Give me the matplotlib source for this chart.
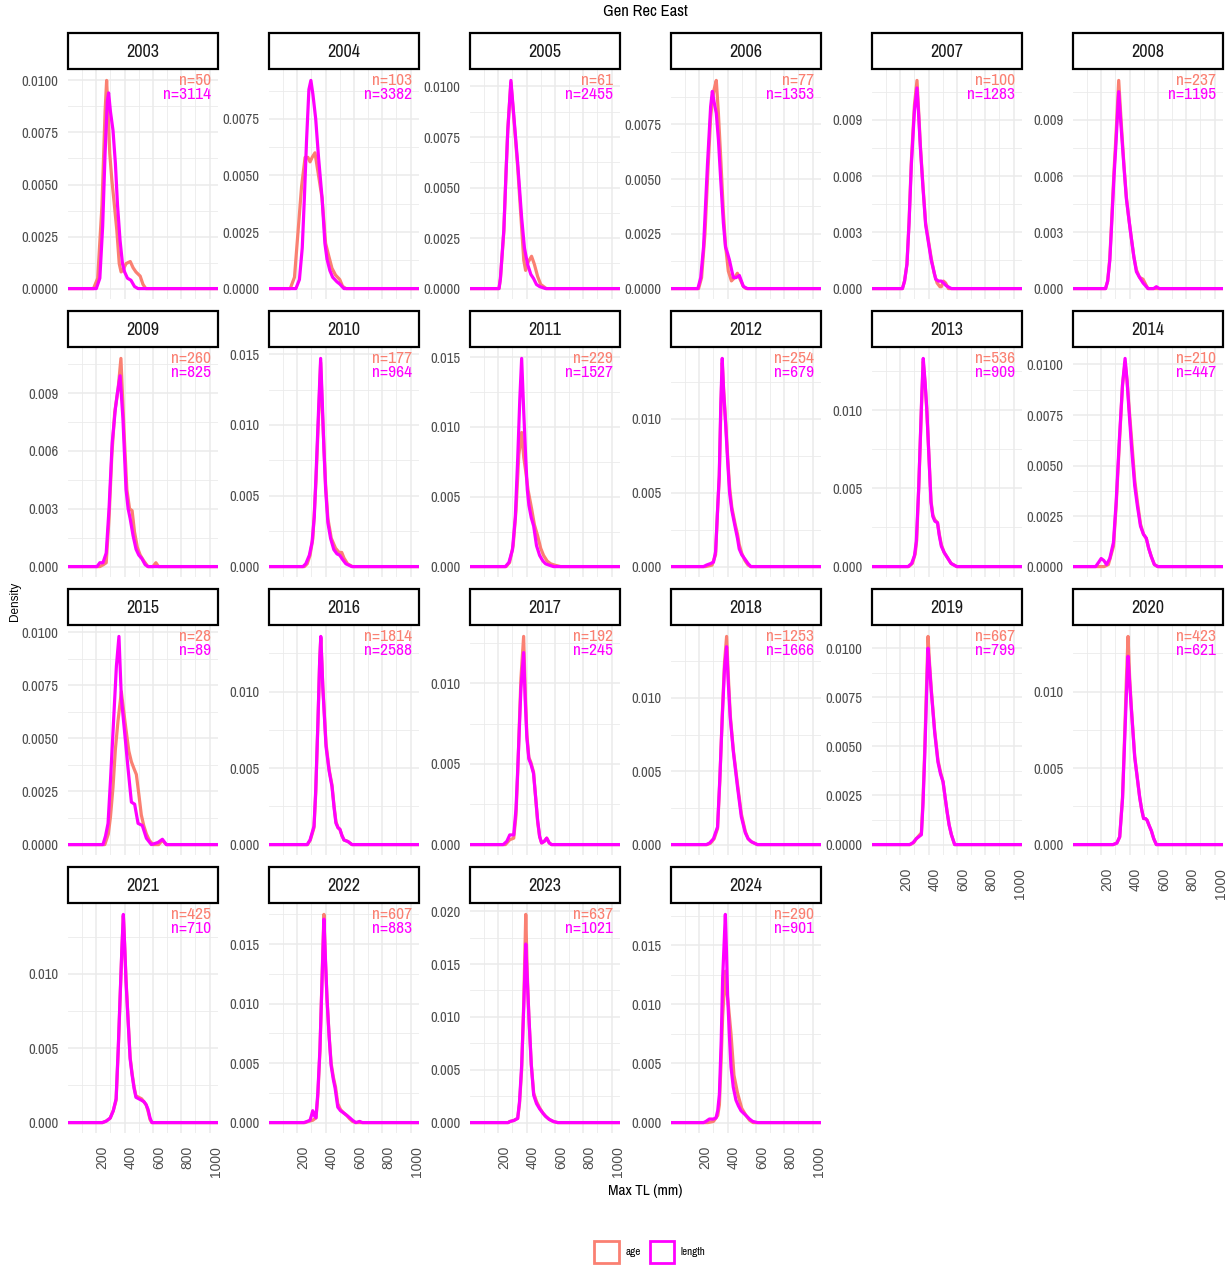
import numpy as np
import matplotlib
matplotlib.use("Agg")
import matplotlib.pyplot as plt
from matplotlib.patches import Rectangle, Patch
from matplotlib.transforms import ScaledTranslation, blended_transform_factory

plt.rcParams['font.family'] = ['Archivo Narrow', 'DejaVu Sans']
ROT_FONT = ['Liberation Sans', 'DejaVu Sans']

years = list(range(2003, 2025))
n_age = [50, 103, 61, 77, 100, 237, 260, 177, 229, 254, 536, 210,
         28, 1814, 192, 1253, 667, 423, 425, 607, 637, 290]
n_length = [3114, 3382, 2455, 1353, 1283, 1195, 825, 964, 1527, 679, 909, 447,
            89, 2588, 245, 1666, 799, 621, 710, 883, 1021, 901]
# spacing of the y breaks in each facet
y_step = [.0025, .0025, .0025, .0025, .003, .003, .003, .005, .005, .005, .005, .0025,
          .0025, .005, .005, .005, .0025, .005, .005, .005, .005, .005]
x_breaks = [200, 400, 600, 800, 1000]
x_minor = [100, 300, 500, 700, 900]

# density curves, (Max TL mm, density)
age_curves = [
    [(0,0),(180,0),(210,.0005),(240,.004),(262,.0085),(273,.0100),(283,.0085),(295,.0065),(310,.0052),(325,.0042),(345,.0028),(362,.0012),(375,.0008),(390,.0009),(410,.0012),(440,.0013),(460,.0010),(480,.0008),(510,.0006),(530,.0002),(550,0),(1060,0)],
    [(0,0),(150,0),(180,.0005),(205,.0025),(230,.0045),(255,.0058),(275,.0058),(290,.0056),(305,.0058),(325,.0060),(345,.0052),(375,.0040),(400,.0020),(420,.0015),(445,.0009),(470,.0006),(500,.0004),(520,.0001),(545,0),(1060,0)],
    [(0,0),(205,0),(215,.0005),(239,.0028),(255,.0058),(267,.0079),(289,.0102),(309,.0085),(337,.0060),(365,.0030),(380,.0014),(393,.0009),(410,.0013),(435,.0016),(455,.0012),(478,.0006),(500,.0002),(520,.0001),(540,0),(1060,0)],
    [(0,0),(195,0),(216,.0005),(240,.0025),(258,.0050),(280,.0078),(292,.0086),(305,.0091),(320,.0095),(335,.0080),(351,.0060),(370,.0035),(385,.0020),(405,.0008),(427,.00035),(450,.0005),(469,.0007),(490,.0004),(511,.0001),(530,0),(1060,0)],
    [(0,0),(215,0),(230,.0004),(247,.0013),(262,.0036),(278,.0068),(300,.0098),(318,.0111),(330,.0094),(342,.0076),(360,.0055),(379,.0035),(400,.0025),(419,.0016),(440,.0008),(460,.0003),(480,.0001),(490,.0001),(505,.0004),(520,.0003),(540,0),(1060,0)],
    [(0,0),(230,0),(245,.0004),(260,.0016),(271,.0033),(290,.0063),(302,.0079),(323,.0111),(342,.0087),(360,.0066),(377,.0049),(395,.0037),(412,.0027),(430,.0017),(448,.0010),(470,.0006),(495,.0005),(515,.0002),(530,0),(1060,0)],
    [(0,0),(225,0),(250,.0001),(270,.0002),(290,.0025),(310,.0058),(330,.0080),(354,.0092),(374,.0108),(396,.0070),(416,.0040),(435,.0030),(453,.0029),(470,.0018),(490,.0010),(510,.0006),(535,.0003),(565,0),(600,0),(621,.0002),(640,0),(1060,0)],
    [(0,0),(250,0),(270,.0002),(290,.0008),(310,.0020),(332,.0060),(350,.0105),(365,.0144),(377,.0110),(388,.0085),(400,.0058),(416,.0034),(440,.0020),(470,.0013),(495,.0010),(514,.0010),(530,.0006),(555,.0002),(590,0),(1060,0)],
    [(0,0),(255,0),(280,.0003),(305,.0015),(325,.0040),(345,.0080),(365,.0096),(380,.0078),(394,.0068),(410,.0055),(436,.0041),(455,.0030),(478,.0022),(500,.0013),(520,.0008),(545,.0004),(570,.0002),(600,.0001),(640,0),(1060,0)],
    [(0,0),(245,0),(290,.0001),(315,.0008),(330,.0040),(341,.0060),(352,.0105),(362,.0138),(372,.0120),(387,.0097),(400,.0075),(414,.0054),(430,.0040),(455,.0028),(470,.0022),(482,.0015),(500,.0009),(523,.0004),(545,.0001),(564,0),(1060,0)],
    [(0,0),(260,0),(285,.0002),(305,.0008),(316,.0017),(330,.0050),(341,.0079),(352,.0108),(362,.0131),(375,.0117),(387,.0100),(400,.0075),(417,.0042),(430,.0033),(444,.0030),(463,.0028),(475,.0021),(490,.0014),(510,.0009),(531,.0006),(545,.0004),(559,.0002),(599,0),(1060,0)],
    [(0,0),(220,0),(250,.0001),(286,.0010),(305,.0030),(327,.0060),(350,.0090),(368,.0101),(382,.0092),(395,.0080),(415,.0062),(436,.0043),(455,.0032),(477,.0021),(498,.0016),(518,.0014),(535,.0009),(553,.0005),(575,.0001),(599,0),(1060,0)],
    [(0,0),(260,0),(285,.0005),(300,.0013),(318,.0027),(335,.0045),(353,.0058),(377,.0072),(395,.0062),(412,.0053),(430,.0044),(448,.0039),(465,.0036),(483,.0033),(500,.0024),(518,.0014),(535,.0009),(554,.0005),(575,.0002),(601,0),(640,0),(667,.0002),(695,0),(1060,0)],
    [(0,0),(272,0),(292,.0003),(318,.0011),(330,.0033),(346,.0080),(358,.0119),(366,.0135),(374,.0118),(380,.0104),(403,.0066),(425,.0049),(445,.0039),(460,.0025),(473,.0015),(488,.0011),(501,.0010),(515,.0006),(530,.0003),(558,.0002),(586,0),(1060,0)],
    [(0,0),(250,0),(281,.0003),(309,.0004),(325,.0018),(337,.0044),(350,.0078),(360,.0103),(379,.0129),(390,.0095),(402,.0068),(416,.0054),(430,.0051),(449,.0045),(465,.0028),(478,.0014),(492,.0005),(506,.0001),(525,.0002),(542,.0004),(560,.0001),(576,0),(1060,0)],
    [(0,0),(255,0),(280,.0001),(305,.0004),(329,.0011),(345,.0043),(362,.0088),(378,.0124),(393,.0142),(405,.0115),(419,.0088),(441,.0064),(469,.0042),(497,.0021),(525,.0009),(545,.0004),(567,.0002),(610,0),(1060,0)],
    [(0,0),(270,0),(295,.0001),(313,.0003),(349,.0006),(360,.0022),(372,.0047),(385,.0080),(396,.0106),(407,.0092),(419,.0079),(443,.0058),(466,.0043),(484,.0037),(502,.0032),(515,.0025),(530,.0017),(545,.0010),(561,.0005),(584,0),(1060,0)],
    [(0,0),(285,0),(310,.0001),(330,.0005),(350,.0031),(365,.0072),(378,.0110),(389,.0136),(400,.0110),(412,.0090),(436,.0058),(455,.0043),(471,.0031),(485,.0023),(499,.0017),(512,.0017),(523,.0016),(540,.0012),(554,.0009),(570,.0004),(589,0),(1060,0)],
    [(0,0),(245,0),(270,.0001),(298,.0003),(320,.0008),(340,.0015),(355,.0048),(368,.0083),(380,.0114),(391,.0139),(400,.0120),(410,.0096),(425,.0069),(439,.0044),(453,.0033),(467,.0024),(480,.0018),(500,.0017),(520,.0016),(537,.0014),(552,.0012),(565,.0008),(580,.0002),(593,0),(1060,0)],
    [(0,0),(255,0),(280,.0001),(310,.0002),(332,.0004),(345,.0022),(360,.0060),(375,.0122),(388,.0175),(398,.0138),(410,.0104),(425,.0073),(439,.0050),(455,.0038),(470,.0030),(486,.0016),(505,.0011),(529,.0008),(550,.0006),(571,.0003),(590,.0001),(613,0),(1060,0)],
    [(0,0),(270,0),(281,.0001),(310,.0002),(337,.0004),(350,.0018),(365,.0050),(380,.0115),(394,.0197),(405,.0140),(416,.0100),(433,.0055),(450,.0028),(470,.0020),(492,.0014),(515,.0009),(534,.0006),(560,.0003),(590,.0001),(620,0),(1060,0)],
    [(0,0),(260,0),(300,.0001),(330,.0006),(342,.0015),(355,.0055),(365,.0090),(384,.0128),(395,.0110),(405,.0100),(424,.0075),(445,.0040),(470,.0025),(500,.0012),(530,.0006),(555,.0002),(580,0),(1060,0)],
]
length_curves = [
    [(0,0),(200,0),(225,.0005),(245,.003),(262,.0065),(278,.0090),(287,.0094),(300,.0085),(318,.0076),(335,.0060),(350,.0040),(368,.0023),(385,.0012),(400,.0008),(420,.0005),(445,.0004),(470,.0001),(495,0),(1060,0)],
    [(0,0),(190,0),(215,.0004),(235,.0018),(250,.0040),(265,.0065),(282,.0088),(296,.0092),(310,.0086),(330,.0075),(350,.0058),(375,.0040),(395,.0020),(410,.0013),(430,.0008),(450,.0005),(480,.0003),(500,.0002),(530,0),(1060,0)],
    [(0,0),(205,0),(215,.0005),(239,.0029),(255,.0058),(267,.0078),(289,.0103),(309,.0086),(337,.0062),(365,.0035),(385,.0020),(407,.0012),(430,.0007),(449,.0005),(470,.0002),(492,.0001),(534,0),(1060,0)],
    [(0,0),(190,0),(210,.0005),(230,.0019),(258,.0057),(280,.0083),(292,.0090),(305,.0085),(320,.0080),(335,.0068),(351,.0050),(370,.0030),(385,.0019),(400,.0016),(413,.0013),(430,.0008),(441,.0005),(460,.0005),(483,.0006),(500,.0003),(511,.0001),(540,0),(1060,0)],
    [(0,0),(215,0),(230,.0004),(247,.0013),(262,.0035),(278,.0066),(300,.0095),(318,.0107),(330,.0092),(342,.0075),(360,.0054),(379,.0034),(400,.0024),(419,.0015),(435,.0010),(450,.0005),(470,.0004),(490,.0004),(505,.0003),(525,.00015),(561,0),(1060,0)],
    [(0,0),(230,0),(245,.0004),(260,.0015),(271,.0031),(290,.0060),(302,.0075),(323,.0105),(342,.0084),(360,.0065),(377,.0048),(395,.0037),(412,.0027),(430,.0017),(448,.0009),(470,.0006),(495,.0003),(530,0),(570,0),(589,.0001),(610,0),(1060,0)],
    [(0,0),(205,0),(225,.0002),(247,.0002),(270,.0007),(290,.0030),(312,.0064),(335,.0082),(349,.0090),(368,.0099),(388,.0077),(410,.0040),(425,.0030),(439,.0025),(460,.0016),(481,.0009),(500,.0006),(523,.0004),(545,.0001),(565,0),(1060,0)],
    [(0,0),(240,0),(260,.0002),(285,.0008),(304,.0017),(320,.0035),(332,.0064),(350,.0110),(365,.0147),(377,.0115),(388,.0083),(400,.0055),(416,.0031),(435,.0020),(458,.0012),(480,.0009),(500,.0008),(520,.0005),(543,.0002),(585,0),(1060,0)],
    [(0,0),(250,0),(275,.0003),(300,.0012),(320,.0035),(337,.0077),(352,.0120),(365,.0149),(380,.0110),(394,.0077),(405,.0055),(416,.0044),(433,.0035),(450,.0029),(470,.0015),(492,.0008),(515,.0004),(534,.0002),(560,.0001),(590,0),(1060,0)],
    [(0,0),(230,0),(250,.0001),(278,.0002),(300,.0003),(315,.0010),(330,.0040),(341,.0062),(352,.0110),(362,.0141),(372,.0118),(387,.0095),(400,.0072),(414,.0050),(430,.0038),(455,.0026),(470,.0019),(482,.0012),(500,.0008),(523,.0005),(545,.0002),(564,0),(1060,0)],
    [(0,0),(255,0),(280,.0002),(300,.0007),(313,.0016),(330,.0050),(341,.0080),(352,.0110),(362,.0133),(375,.0118),(387,.0101),(400,.0075),(417,.0041),(430,.0032),(444,.0029),(463,.0028),(475,.0020),(490,.0013),(510,.0009),(531,.0006),(545,.0004),(559,.0002),(599,0),(1060,0)],
    [(0,0),(160,0),(180,.0002),(199,.0004),(218,.0003),(237,.0001),(260,.0004),(286,.0012),(305,.0032),(327,.0062),(350,.0090),(368,.0103),(382,.0092),(395,.0078),(415,.0058),(436,.0040),(455,.0030),(477,.0020),(498,.0016),(518,.0014),(535,.0009),(553,.0005),(575,.0001),(599,0),(1060,0)],
    [(0,0),(247,0),(265,.0004),(283,.0010),(300,.0030),(318,.0053),(342,.0084),(360,.0098),(377,.0069),(400,.0053),(424,.0036),(448,.0020),(471,.0019),(495,.0010),(525,.0009),(554,.0003),(589,0),(636,.0001),(667,.00025),(695,0),(1060,0)],
    [(0,0),(270,0),(290,.0003),(318,.0012),(330,.0035),(346,.0081),(358,.0120),(366,.0136),(374,.0118),(380,.0103),(403,.0064),(425,.0048),(445,.0038),(460,.0024),(473,.0014),(488,.0011),(501,.0010),(515,.0006),(530,.0003),(558,.0002),(586,0),(1060,0)],
    [(0,0),(235,0),(260,.0002),(281,.0006),(309,.0006),(325,.0022),(337,.0046),(350,.0075),(360,.0097),(379,.0119),(390,.0090),(402,.0066),(416,.0053),(430,.0050),(449,.0044),(465,.0028),(478,.0015),(492,.0005),(506,.0001),(525,.0002),(542,.0004),(560,.0001),(576,0),(1060,0)],
    [(0,0),(250,0),(272,.0001),(300,.0004),(329,.0012),(345,.0045),(362,.0086),(378,.0120),(393,.0135),(405,.0110),(419,.0086),(441,.0063),(469,.0040),(497,.0019),(525,.0008),(545,.0004),(567,.0002),(610,0),(1060,0)],
    [(0,0),(266,0),(290,.0001),(313,.0003),(349,.0005),(360,.0020),(372,.0044),(385,.0075),(396,.0100),(407,.0090),(419,.0078),(443,.0057),(466,.0042),(484,.0036),(502,.0032),(515,.0025),(530,.0017),(545,.0010),(561,.0005),(584,0),(1060,0)],
    [(0,0),(283,0),(310,.0001),(330,.0005),(350,.0030),(365,.0068),(378,.0100),(389,.0123),(400,.0106),(412,.0089),(436,.0057),(455,.0043),(471,.0031),(485,.0023),(499,.0017),(512,.0017),(523,.0016),(540,.0012),(554,.0009),(570,.0004),(589,0),(1060,0)],
    [(0,0),(242,0),(270,.0001),(298,.0003),(320,.0008),(340,.0016),(355,.0050),(368,.0084),(380,.0115),(391,.0140),(400,.0120),(410,.0095),(425,.0068),(439,.0043),(453,.0032),(467,.0023),(480,.0017),(500,.0016),(520,.0015),(537,.0014),(552,.0012),(565,.0009),(580,.0003),(593,0),(1060,0)],
    [(0,0),(247,0),(270,.0001),(290,.0002),(300,.0006),(309,.0010),(320,.0006),(332,.0004),(345,.0025),(360,.0062),(375,.0120),(388,.0171),(398,.0140),(410,.0104),(425,.0072),(439,.0048),(455,.0036),(467,.0029),(486,.0013),(505,.0010),(529,.0008),(550,.0006),(571,.0004),(590,.0002),(613,0),(640,.0001),(660,0),(1060,0)],
    [(0,0),(270,0),(281,.0001),(310,.0002),(337,.0004),(350,.0020),(365,.0054),(380,.0110),(394,.0169),(405,.0135),(416,.0101),(433,.0055),(450,.0026),(470,.0018),(492,.0013),(515,.0009),(534,.0006),(560,.0003),(590,.0001),(620,0),(1060,0)],
    [(0,0),(230,0),(247,.0001),(271,.0003),(300,.0003),(318,.0004),(330,.0010),(342,.0024),(355,.0070),(365,.0122),(384,.0176),(392,.0145),(400,.0108),(412,.0075),(424,.0047),(440,.0030),(459,.0019),(477,.0014),(495,.0010),(512,.0008),(530,.0006),(555,.0003),(577,.0001),(612,0),(1060,0)],
]

age_col = '#FA8072'
len_col = '#FF00FF'
grey_txt = '#4D4D4D'
grid_col = '#EBEBEB'

W, H = 1225, 1268
fig = plt.figure(figsize=(W / 100, H / 100), dpi=100)
fig.patch.set_facecolor('white')

ncol = 6
col_left = 68
col_pitch = 201
panel_w = 150
strip_top0 = 33
row_pitch = 278
strip_h = 36
panel_h = 229

# rotated x labels: a little right of their break, 13 px under the panel
xlab_shift = ScaledTranslation(6 / 100, -13 / 100, fig.dpi_scale_trans)


def fig_box(left, top, w, h):
    return [left / W, 1 - (top + h) / H, w / W, h / H]


n_panels = len(years)
for i, yr in enumerate(years):
    r, c = divmod(i, ncol)
    left = col_left + c * col_pitch
    s_top = strip_top0 + r * row_pitch
    p_top = s_top + strip_h + 1

    # facet strip
    fig.patches.append(Rectangle((left / W, 1 - (s_top + strip_h) / H), panel_w / W, strip_h / H,
                                 transform=fig.transFigure, facecolor='white',
                                 edgecolor='black', lw=1.6))
    fig.text((left + panel_w / 2) / W, 1 - (s_top + strip_h / 2 + 1) / H, str(yr),
             ha='center', va='center', fontsize=13, color='#1A1A1A')

    ax = fig.add_axes(fig_box(left, p_top, panel_w, panel_h))
    ax.set_facecolor('white')
    for sp in ax.spines.values():
        sp.set_visible(False)

    ax_pts = np.array(age_curves[i])
    ln_pts = np.array(length_curves[i])
    ymax = max(ax_pts[:, 1].max(), ln_pts[:, 1].max())

    ax.plot(ax_pts[:, 0], ax_pts[:, 1], color=age_col, lw=2.3, solid_joinstyle='round')
    ax.plot(ln_pts[:, 0], ln_pts[:, 1], color=len_col, lw=2.3, solid_joinstyle='round')

    ax.set_xlim(0, 1060)
    ax.set_ylim(-0.05 * ymax, 1.05 * ymax)

    step = y_step[i]
    yt = np.arange(0, 1.05 * ymax + 1e-12, step)
    ax.set_yticks(yt)
    minor = yt[:-1] + step / 2
    if 1.05 * ymax - yt[-1] > step / 2:
        minor = np.append(minor, yt[-1] + step / 2)
    ax.set_yticks(minor, minor=True)
    dec = 4 if step == .0025 else 3
    ax.set_yticklabels([f'{v:.{dec}f}' for v in yt])

    ax.set_xticks(x_breaks)
    ax.set_xticks(x_minor, minor=True)
    ax.set_xticklabels([])
    if i + ncol >= n_panels:
        tr = blended_transform_factory(ax.transData, ax.transAxes) + xlab_shift
        for v in x_breaks:
            ax.text(v, 0, str(v), transform=tr, rotation=90, ha='center', va='top',
                    family=ROT_FONT, fontsize=10, color=grey_txt)

    ax.tick_params(which='both', length=0)
    ax.tick_params(axis='y', labelsize=10.5, labelcolor=grey_txt, pad=7)
    ax.grid(which='major', color=grid_col, lw=1.1)
    ax.grid(which='minor', color=grid_col, lw=0.6)
    ax.set_axisbelow(True)

    # sample sizes
    ax.annotate(f'n={n_age[i]}', (1010, ymax), ha='right', va='center',
                fontsize=12.5, color=age_col)
    ax.annotate(f'n={n_length[i]}', (1010, ymax), xytext=(0, -14),
                textcoords='offset pixels', ha='right', va='center',
                fontsize=12.5, color=len_col)

fig.text(645 / W, 1 - 12 / H, 'Gen Rec East', ha='center', va='center', fontsize=12)
fig.text(645 / W, 1 - 1191 / H, 'Max TL (mm)', ha='center', va='center', fontsize=11)
fig.text(15 / W, 1 - 601 / H, 'Density', ha='center', va='center', rotation=90,
         fontsize=8.5, family=ROT_FONT)

handles = [Patch(facecolor='white', edgecolor=age_col, lw=2, label='age'),
           Patch(facecolor='white', edgecolor=len_col, lw=2, label='length')]
fig.legend(handles=handles, loc='center', bbox_to_anchor=(650 / W, 1 - 1252 / H),
           ncol=2, frameon=False, fontsize=8, handlelength=2.2, handleheight=2.8,
           handletextpad=0.6, columnspacing=0.8)

fig.savefig('out.png', dpi=100, facecolor='white')
